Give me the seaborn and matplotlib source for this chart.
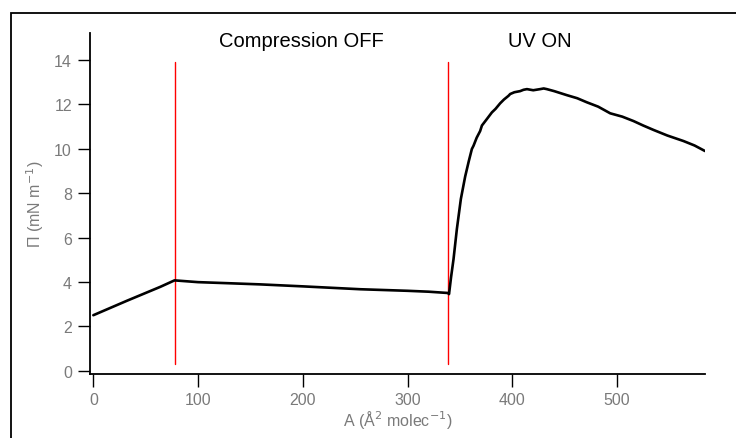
import numpy as np
import pandas as pd
import matplotlib
matplotlib.use("Agg")
import matplotlib.pyplot as plt
import matplotlib.transforms as mtransforms
import seaborn as sns
from matplotlib.patches import Rectangle

# ---- data ----
area = [0, 32, 64, 77.5,
        100, 130, 159, 200, 255, 300, 320, 339,
        339.6, 341.5, 343.9, 347.1, 350.9, 355, 358.5, 361.4, 363, 366,
        369.3, 371, 375.7, 380.5, 384, 388.4, 392, 396.4, 398, 402, 407.5,
        410.7, 414, 420, 426.6, 430, 433, 440, 452, 462, 471, 482, 493.5,
        505, 515.8, 525, 534.9, 548, 563.5, 574, 584]
pressure = [2.5, 3.15, 3.78, 4.07,
            3.99, 3.94, 3.89, 3.8, 3.67, 3.6, 3.56, 3.5,
            3.45, 4.2, 5.03, 6.39, 7.74, 8.75, 9.45, 9.99, 10.14, 10.5,
            10.8, 11.05, 11.34, 11.64, 11.8, 12.05, 12.22, 12.39, 12.47, 12.55, 12.6,
            12.66, 12.69, 12.64, 12.69, 12.72, 12.69, 12.6, 12.42, 12.28, 12.1, 11.9, 11.6,
            11.45, 11.25, 11.05, 10.85, 10.6, 10.35, 10.15, 9.9]
event_x = [78, 339]
event_labels = ["Compression OFF", "UV ON"]
event_label_x = [199, 426]
x_ticks = [0, 100, 200, 300, 400, 500]
y_ticks = [0, 2, 4, 6, 8, 10, 12, 14]

df = pd.DataFrame({"A": area, "Pi": pressure})

sns.set_theme(style="ticks")
plt.rcParams["font.family"] = ["Liberation Sans", "DejaVu Sans"]

fig = plt.figure(figsize=(7.36, 4.39), dpi=100)
ax = fig.add_axes([90/736, 1-375/439, (705-90)/736, (375-34)/439])

# vertical event markers
for ex in event_x:
    ax.plot([ex, ex], [0.3, 13.9], color="#ff0000", lw=1.0, zorder=1)

sns.lineplot(data=df, x="A", y="Pi", ax=ax, color="black", lw=1.9,
             sort=False, estimator=None, zorder=3)

ax.set_xlim(-3.2, 584)
ax.set_ylim(-0.15, 15.22)
ax.set_xticks(x_ticks)
ax.set_yticks(y_ticks)
for s in ["top", "right"]:
    ax.spines[s].set_visible(False)
for s in ["left", "bottom"]:
    ax.spines[s].set_color("black")
    ax.spines[s].set_linewidth(1.3)
ax.tick_params(axis="both", direction="out", length=9, width=1.0,
               color="black", labelcolor="#7a7a7a", labelsize=11.5, pad=4)

ax.set_xlabel(r"A (Å$^{2}$ molec$^{-1}$)", color="#7a7a7a", fontsize=11.5, labelpad=1)
ax.set_ylabel(r"Π (mN m$^{-1}$)", color="#7a7a7a", fontsize=11.5, labelpad=6)

trans = mtransforms.blended_transform_factory(ax.transData, fig.transFigure)
for lx, lt in zip(event_label_x, event_labels):
    ax.text(lx, 1 - 47/439, lt, transform=trans, ha="center",
            va="baseline", fontsize=14.5, color="black")

# outer frame
fig.patches.append(Rectangle((11/736, -0.05), 1.2, 1 - 14/439 + 0.05,
                             transform=fig.transFigure, fill=False,
                             edgecolor="black", lw=1.3))

fig.savefig("out.png", dpi=100)
